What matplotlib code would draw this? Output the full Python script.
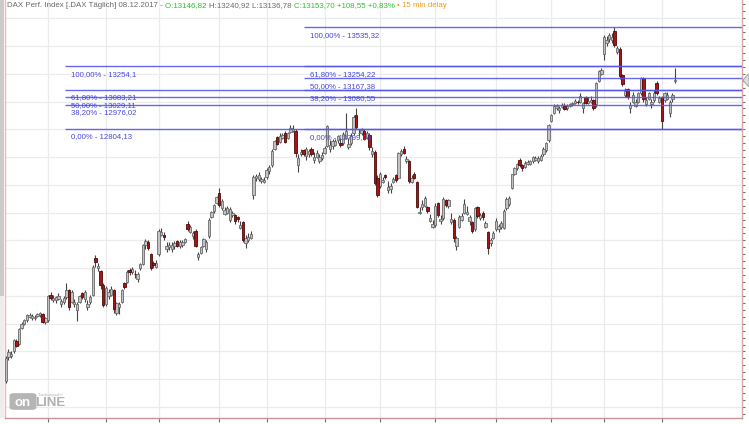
"""DAX daily candles with two Fibonacci retracement sets (Tradesignal look)."""

import matplotlib

matplotlib.use("Agg")
import matplotlib.pyplot as plt
import numpy as np
from matplotlib.patches import FancyBboxPatch, Polygon, Rectangle

plt.rcParams["font.family"] = ["Liberation Sans", "DejaVu Sans"]

# daily OHLC, 08.12.2016 - 08.12.2017 (one comment per month block)
opens = [
    # Dec
    10990, 11160, 11170, 11200, 11275, 11255, 11370, 11400, 11425, 11450, 11440, 11440, 11455, 11460, 11470, 11410,
    # Jan
    11425, 11610, 11570, 11570, 11580, 11540, 11560, 11590, 11640, 11560, 11540, 11500, 11560, 11620, 11580, 11520,
    11560, 11610, 11875, 11800, 11780, 11680,
    # Feb
    11540, 11600, 11610, 11640, 11480, 11520, 11560, 11690, 11700, 11790, 11770, 11760, 11720, 11800, 11830, 11970,
    11990, 11900, 11840, 11810,
    # Mar
    11900, 12040, 12040, 11940, 11950, 11940, 11960, 11995, 11960, 11970, 11990, 12120, 12060, 12030, 12070, 11880,
    11910, 11960, 11940, 12030, 12170, 12210, 12270,
    # Apr
    12340, 12230, 12190, 12200, 12150, 12180, 12180, 12165, 12090, 12130, 11980, 12000, 12020, 12330, 12450, 12440,
    12430, 12420,
    # May
    12460, 12500, 12540, 12660, 12745, 12710, 12740, 12775, 12740, 12780, 12790, 12790, 12540, 12620, 12650, 12610,
    12620, 12660, 12580, 12600, 12570, 12590,
    # Jun
    12630, 12680, 12660, 12680, 12690, 12720, 12700, 12700, 12740, 12670, 12700, 12770, 12900, 12770, 12770, 12790,
    12740, 12760, 12620, 12640, 12450,
    # Jul
    12390, 12420, 12470, 12360, 12370, 12420, 12470, 12450, 12620, 12660, 12570, 12570, 12420, 12480, 12420, 12200,
    12240, 12250, 12240, 12140, 12100,
    # Aug
    12110, 12270, 12140, 12160, 12290, 12250, 12135, 12150, 11960, 12100, 12150, 12200, 12190, 12140, 12130, 12080,
    12240, 12160, 12200, 12100, 12060, 11980, 12020,
    # Sep
    12080, 12080, 12100, 12090, 12230, 12260, 12380, 12480, 12520, 12580, 12540, 12530, 12550, 12550, 12570, 12580,
    12570, 12580, 12620, 12650, 12720,
    # Oct
    12860, 12920, 12950, 12940, 12960, 12970, 12950, 12970, 12980, 12990, 13000, 13000, 12950, 13030, 12990, 13000,
    13010, 12980, 13150, 13200,
    # Nov
    13340, 13420, 13450, 13440, 13510, 13360, 13380, 13190, 13050, 13090, 12950, 13000, 12970, 13000, 13060, 13170,
    12980, 13020, 12980, 13010, 13130, 13000,
    # Dec
    13030, 13010, 13020, 12920, 13020, 13146.82,
]
highs = [
    11165, 11215, 11200, 11290, 11290, 11370, 11410, 11435, 11470, 11480, 11470, 11460, 11480, 11485, 11480, 11450,
    11610, 11630, 11610, 11600, 11620, 11580, 11600, 11690, 11650, 11640, 11580, 11560, 11610, 11630, 11640, 11570,
    11610, 11820, 11895, 11840, 11790, 11690,
    11670, 11650, 11670, 11650, 11560, 11560, 11650, 11700, 11790, 11800, 11810, 11790, 11770, 11840, 11975, 12010,
    12000, 11910, 11850, 11860,
    12080, 12090, 12060, 11990, 11990, 11990, 11995, 12005, 12000, 12005, 12020, 12140, 12110, 12070, 12080, 11920,
    11960, 12020, 12000, 12160, 12215, 12265, 12320,
    12375, 12300, 12240, 12250, 12240, 12215, 12190, 12175, 12140, 12140, 12040, 12050, 12070, 12470, 12480, 12490,
    12460, 12460,
    12520, 12540, 12660, 12720, 12755, 12770, 12775, 12785, 12780, 12830, 12830, 12800, 12620, 12660, 12660, 12670,
    12660, 12670, 12640, 12650, 12620, 12640,
    12680, 12830, 12720, 12730, 12730, 12760, 12740, 12780, 12920, 12740, 12770, 12900, 12950, 12800, 12810, 12800,
    12790, 12770, 12670, 12650, 12470,
    12490, 12460, 12480, 12430, 12410, 12460, 12480, 12640, 12660, 12680, 12610, 12580, 12470, 12490, 12430, 12240,
    12290, 12320, 12250, 12190, 12150,
    12270, 12280, 12180, 12310, 12300, 12300, 12200, 12160, 12030, 12180, 12200, 12300, 12250, 12180, 12140, 12240,
    12250, 12200, 12210, 12140, 12070, 12020, 12070,
    12160, 12120, 12140, 12225, 12310, 12320, 12480, 12530, 12560, 12590, 12550, 12570, 12580, 12580, 12610, 12610,
    12610, 12620, 12670, 12710, 12840,
    12910, 12980, 12980, 12970, 12990, 12990, 12980, 12990, 13000, 13020, 13010, 13060, 13000, 13040, 13030, 13040,
    13020, 13140, 13230, 13240,
    13480, 13470, 13490, 13490, 13535, 13400, 13390, 13200, 13100, 13100, 13000, 13070, 13020, 13070, 13180, 13180,
    13030, 13070, 13020, 13080, 13145, 13040,
    13040, 13070, 13070, 13010, 13060, 13240.92,
]
lows = [
    10975, 11140, 11150, 11190, 11230, 11250, 11360, 11390, 11415, 11440, 11430, 11430, 11445, 11450, 11405, 11400,
    11410, 11570, 11560, 11550, 11570, 11520, 11540, 11580, 11500, 11550, 11520, 11420, 11550, 11580, 11560, 11500,
    11540, 11600, 11810, 11780, 11650, 11520,
    11530, 11580, 11600, 11480, 11460, 11470, 11550, 11650, 11690, 11750, 11760, 11730, 11700, 11790, 11820, 11940,
    11930, 11790, 11800, 11800,
    11890, 12030, 12000, 11920, 11930, 11920, 11940, 11950, 11945, 11955, 11980, 12070, 12050, 12010, 11950, 11860,
    11900, 11950, 11920, 12020, 12160, 12200, 12260,
    12240, 12220, 12180, 12190, 12130, 12170, 12120, 12130, 12080, 11990, 11945, 11990, 12010, 12300, 12430, 12430,
    12410, 12410,
    12440, 12480, 12530, 12650, 12690, 12700, 12730, 12700, 12730, 12770, 12780, 12600, 12490, 12610, 12610, 12580,
    12600, 12610, 12560, 12590, 12560, 12580,
    12620, 12670, 12640, 12660, 12680, 12700, 12670, 12690, 12730, 12660, 12690, 12760, 12800, 12750, 12760, 12720,
    12730, 12650, 12600, 12400, 12310,
    12380, 12410, 12440, 12340, 12340, 12410, 12420, 12440, 12610, 12620, 12560, 12410, 12410, 12440, 12230, 12190,
    12220, 12240, 12200, 12130, 12090,
    12100, 12170, 12120, 12150, 12240, 12230, 12120, 11990, 11930, 12090, 12140, 12190, 12180, 12110, 12050, 12070,
    12160, 12150, 12150, 12090, 11900, 11960, 12010,
    12070, 12060, 12080, 12080, 12220, 12250, 12370, 12470, 12510, 12530, 12500, 12520, 12540, 12540, 12560, 12570,
    12560, 12570, 12610, 12640, 12710,
    12850, 12910, 12940, 12920, 12950, 12940, 12940, 12960, 12970, 12980, 12980, 12990, 12920, 12980, 12980, 12990,
    12940, 12960, 13140, 13190,
    13300, 13400, 13430, 13420, 13390, 13340, 13160, 13110, 13030, 13020, 12920, 12990, 12960, 12990, 13050, 13000,
    12970, 13010, 12950, 13000, 13050, 12990,
    12800, 13000, 13010, 12890, 13000, 13136.78,
]
closes = [
    11155, 11195, 11185, 11280, 11240, 11360, 11400, 11425, 11460, 11465, 11455, 11450, 11470, 11475, 11415, 11440,
    11600, 11585, 11584, 11590, 11600, 11563, 11583, 11646, 11521, 11629, 11555, 11540, 11599, 11590, 11630, 11545,
    11595, 11806, 11845, 11814, 11681, 11535,
    11659, 11627, 11651, 11509, 11549, 11543, 11642, 11666, 11774, 11772, 11794, 11757, 11757, 11827, 11967, 11998,
    11947, 11804, 11822, 11834,
    12067, 12060, 12027, 11958, 11967, 11967, 11979, 11963, 11990, 11989, 12009, 12083, 12095, 12052, 11962, 11904,
    11950, 12010, 11990, 12149, 12203, 12257, 12313,
    12257, 12282, 12218, 12230, 12225, 12200, 12139, 12154, 12109, 12000, 12016, 12027, 12049, 12455, 12467, 12472,
    12443, 12438,
    12507, 12528, 12647, 12717, 12694, 12749, 12757, 12711, 12770, 12807, 12804, 12631, 12590, 12638, 12619, 12659,
    12642, 12621, 12602, 12629, 12599, 12615,
    12664, 12822, 12690, 12714, 12714, 12750, 12690, 12765, 12790, 12692, 12752, 12888, 12814, 12774, 12794, 12733,
    12771, 12671, 12647, 12416, 12325,
    12475, 12437, 12453, 12381, 12389, 12445, 12437, 12627, 12641, 12631, 12587, 12430, 12452, 12447, 12240, 12208,
    12264, 12305, 12212, 12162, 12118,
    12251, 12181, 12154, 12297, 12257, 12292, 12154, 12014, 12014, 12165, 12178, 12263, 12203, 12165, 12066, 12230,
    12174, 12180, 12167, 12123, 11945, 12002, 12055,
    12142, 12102, 12124, 12214, 12296, 12303, 12475, 12524, 12553, 12540, 12518, 12559, 12561, 12569, 12600, 12592,
    12594, 12605, 12657, 12704, 12829,
    12902, 12970, 12968, 12955, 12976, 12949, 12970, 12982, 12991, 13003, 12995, 13043, 12990, 12991, 13003, 13013,
    12953, 13133, 13217, 13229,
    13465, 13440, 13479, 13468, 13406, 13382, 13183, 13127, 13074, 13033, 12977, 13047, 12994, 13059, 13167, 13015,
    13008, 13060, 13000, 13060, 13061, 13023,
    12861, 13058, 13048, 12999, 13045, 13153.70,
]

# first trading day of each month (bar index): Jan .. Dec 2017
month_starts = [16, 38, 58, 81, 99, 121, 142, 163, 186, 207, 227, 249]

# Fibonacci sets: (start bar, levels, labels)
fib_left_start = 22.5
fib_left_levels = [13254.1, 13083.21, 13029.11, 12976.02, 12804.13]
fib_left_labels = ["100,00% - 13254,1", "61,80% - 13083,21", "50,00% - 13029,11",
                   "38,20% - 12976,02", "0,00% - 12804,13"]
fib_right_start = 113.2
fib_right_levels = [13535.32, 13254.22, 13167.38, 13080.55, 12799.94]
fib_right_labels = ["100,00% - 13535,32", "61,80% - 13254,22", "50,00% - 13167,38",
                    "38,20% - 13080,55", "0,00% - 12799,94"]

header = [
    ("DAX Perf. Index [.DAX T\u00e4glich] 08.12.2017 - ", "#6a6a6a"),
    ("O:13146,82 ", "#2fbf2f"),
    ("H:13240,92 L:13136,78 ", "#6a6a6a"),
    ("C:13153,70 +108,55 +0,83% ", "#2fbf2f"),
    ("\u2022 15 min delay", "#f39a1c"),
]

W, H = 749, 424
FIB_BLUE = "#5656ee"

fig = plt.figure(figsize=(W / 100, H / 100), dpi=100)
fig.patch.set_facecolor("white")
ax = fig.add_axes([5 / W, 1 - 418.3 / H, (742.3 - 5) / W, 418.3 / H])

x = np.arange(len(closes))
o, hi, lo, c = (np.array(v, dtype=float) for v in (opens, highs, lows, closes))
up = c >= o

xmin, xmax = -0.3, 279.5
ax.set_xlim(xmin, xmax)
ax.set_ylim(10719, 13731)

# grid
for yv in np.arange(10800, 13700, 200):
    ax.axhline(yv, color="#ebebeb", lw=0.9, zorder=0)
for m in month_starts:
    ax.axvline(m, color="#ebebeb", lw=0.9, zorder=0)

# candles
ax.vlines(x, lo, hi, color="#444444", lw=0.8, zorder=3)
body_up = np.maximum(c - o, 4)
body_dn = np.maximum(o - c, 4)
ax.bar(x[up], body_up[up], bottom=o[up], width=0.9, color="#c2c2c2",
       edgecolor="#6a6a6a", lw=0.6, zorder=4)
ax.bar(x[~up], body_dn[~up], bottom=c[~up], width=0.9, color="#a81414",
       edgecolor="#4e0a0a", lw=0.6, zorder=4)

# Fibonacci lines and labels
for start, levels, labels in ((fib_left_start, fib_left_levels, fib_left_labels),
                              (fib_right_start, fib_right_levels, fib_right_labels)):
    ax.hlines(levels, start, xmax, color=FIB_BLUE, lw=1.0, alpha=0.9, zorder=5)
    for lev, lab in zip(levels, labels):
        ax.annotate(lab, xy=(start + 2.4, lev), xytext=(0, -8), textcoords="offset pixels",
                    ha="left", va="center", fontsize=5.6, color="#4646e0", zorder=6)

# axes decoration
ax.set_xticks(month_starts)
ax.set_xticklabels([])
ax.tick_params(axis="x", direction="out", length=3, width=0.8, color="#707070")
ax.yaxis.tick_right()
ax.set_yticks(np.arange(10750, 13731, 50))
ax.set_yticklabels([])
ax.tick_params(axis="y", direction="out", length=2, width=0.8, color="#707070")
ax.spines["top"].set_visible(False)
ax.spines["left"].set_color("#f2b4b4")
ax.spines["bottom"].set_color("#c89494")
ax.spines["right"].set_color("#d9a8a8")
for s in ("left", "bottom", "right"):
    ax.spines[s].set_linewidth(1.0)


def fpx(px, py):
    return px / W, 1 - py / H


# current price marker on the right axis
yl = closes[-1]
py_last = 418.3 - (yl - 10719) / (13731 - 10719) * 418.3
fig.add_artist(Polygon([fpx(742.8, py_last), fpx(748, py_last - 6), fpx(749, py_last - 6),
                        fpx(749, py_last + 6), fpx(748, py_last + 6)], closed=True,
                       transform=fig.transFigure, facecolor="#dedede", edgecolor="#9a9a9a", lw=0.6))

# left strip
fig.add_artist(Rectangle(fpx(0, 296), 4 / W, 296 / H, transform=fig.transFigure,
                         facecolor="#cacaca", edgecolor="none"))
fig.add_artist(Rectangle(fpx(0, 418), 4 / W, 122 / H, transform=fig.transFigure,
                         facecolor="#ededed", edgecolor="none"))

# header line (top partly cut, like the screenshot)
t = fig.text(7 / W, 1 - 6.8 / H, header[0][0], color=header[0][1], fontsize=5.7,
             ha="left", va="baseline")
for txt, col in header[1:]:
    t = ax.annotate(txt, xy=(1, 0), xycoords=t, ha="left", va="bottom", fontsize=5.7,
                    color=col, annotation_clip=False)

# Tradesignal online logo
fig.add_artist(FancyBboxPatch(fpx(11, 409), 24 / W, 15 / H, boxstyle="round,pad=0.002,rounding_size=0.006",
                              transform=fig.transFigure, facecolor="#b5b5b5", edgecolor="none"))
fig.text(23 / W, 1 - 402.5 / H, "on", color="white", fontsize=9.5, fontweight="bold",
         ha="center", va="center")
fig.text(35.5 / W, 1 - 403.5 / H, "LINE", color="#b0b0b0", fontsize=9.5, fontweight="bold",
         ha="left", va="center")
fig.text(38 / W, 1 - 395 / H, "Tradesignal\u00ae", color="#b5b5b5", fontsize=3.2,
         ha="left", va="center")

fig.savefig("out.png", dpi=100)
plt.close(fig)
